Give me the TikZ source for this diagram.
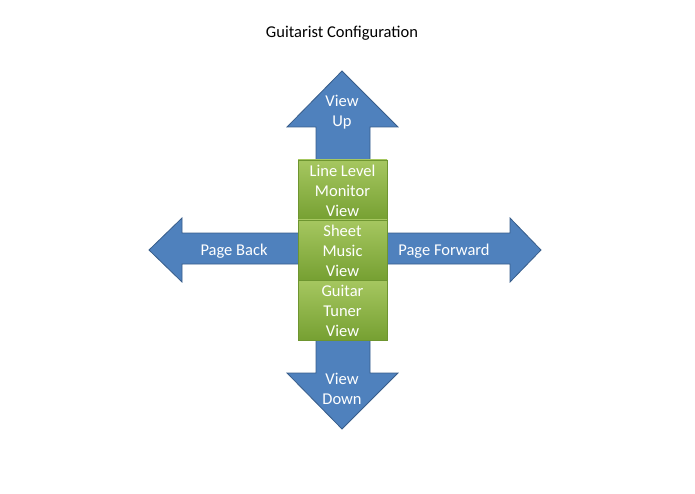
\documentclass[tikz,border=0pt]{standalone}
\usepackage{fontspec}
\setmainfont{Carlito}
\definecolor{arrowfill}{HTML}{4F81BD}
\definecolor{arrowline}{HTML}{385D8A}
\definecolor{greentop}{HTML}{A6C760}
\definecolor{greenbot}{HTML}{76A032}
\definecolor{greenline}{HTML}{6E9530}
\begin{document}
\begin{tikzpicture}[x=1pt,y=-1pt,
  arrowshape/.style={fill=arrowfill,draw=arrowline,line width=0.8pt,line join=miter},
  viewbox/.style={draw=greenline,line width=0.6pt,top color=greentop,bottom color=greenbot,
    minimum width=89pt,minimum height=60pt,inner sep=0pt},
  lbl/.style={text=white,font=\fontsize{16.5}{20}\selectfont,align=center,inner sep=0pt}]
\useasboundingbox (0,0) rectangle (695,494);
\node[font=\fontsize{16.5}{20}\selectfont] (title) at (342,33) {Guitarist Configuration};
% up arrow
\draw[arrowshape] (342,71) -- (398,127) -- (370,127) -- (370,165) -- (316,165) -- (316,127) -- (287,127) -- cycle;
% down arrow
\draw[arrowshape] (342,429) -- (398,373) -- (370,373) -- (370,335) -- (316,335) -- (316,373) -- (287,373) -- cycle;
% left arrow
\draw[arrowshape] (149,250) -- (182,218) -- (182,233) -- (305,233) -- (305,264) -- (182,264) -- (182,282) -- cycle;
% right arrow
\draw[arrowshape] (541,250) -- (510,218) -- (510,233) -- (380,233) -- (380,264) -- (510,264) -- (510,282) -- cycle;
\node[lbl] (up) at (342,112) {View\\Up};
\node[lbl] (down) at (342,389) {View\\Down};
\node[lbl] (back) at (234,251) {Page Back};
\node[lbl] (fwd) at (444,251) {Page Forward};
% boxes
\node[viewbox] (lvm) at (342.5,190) {};
\node[viewbox] (smv) at (342.5,250) {};
\node[viewbox] (gtv) at (342.5,310) {};
\node[lbl] at ([yshift=-1pt]lvm) {Line Level\\Monitor\\View};
\node[lbl] at ([yshift=-1pt]smv) {Sheet\\Music\\View};
\node[lbl] at ([yshift=-1pt]gtv) {Guitar\\Tuner\\View};
\end{tikzpicture}
\end{document}
